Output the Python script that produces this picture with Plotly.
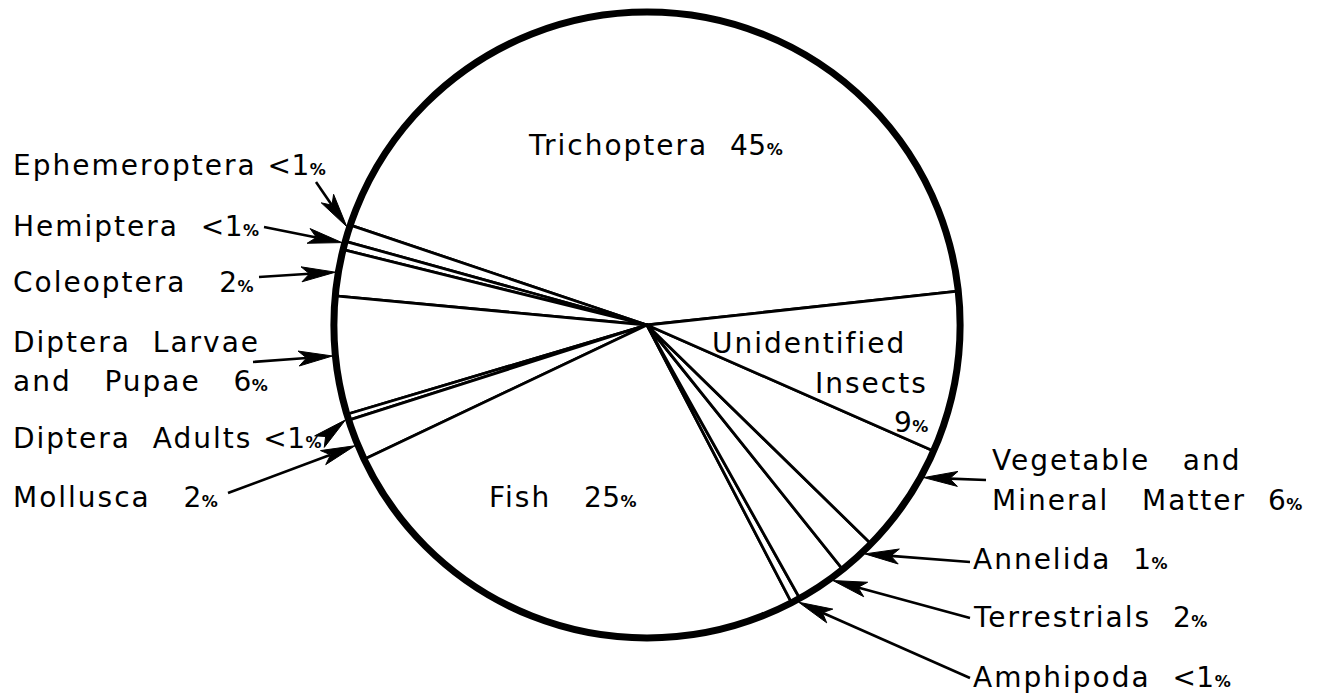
import math
import plotly.graph_objects as go

# ---------------- data ----------------
categories = ["Trichoptera", "Ephemeroptera", "Hemiptera", "Coleoptera",
              "Diptera Larvae and Pupae", "Diptera Adults", "Mollusca", "Fish",
              "Amphipoda", "Terrestrials", "Annelida",
              "Vegetable and Mineral Matter", "Unidentified Insects"]
# slice sizes (percent)
values = [43.1, 0.86, 0.44, 2.39, 6.08, 0.31, 2.14, 25.58,
          0.47, 2.64, 1.94, 5.72, 8.31]
# printed percentage labels
pct_labels = ["45", "<1", "<1", "2", "6", "<1", "2", "25",
              "<1", "2", "1", "6", "9"]

# ---------------- layout constants ----------------
OFF = 8                            # page body margin of the html page
FW, FH = 1319 - OFF, 695 - OFF     # figure size
CX, CY, R = 647, 325, 313          # pie centre / radius in page pixels
START = 6.2                        # first slice starts 6.2 deg above 3 o'clock (ccw)
FONT = "DejaVu Sans"
FS = 28
LS = "2px"

total = sum(values)
first_end = START + 360.0 * values[0] / total
rotation = 90.0 - first_end        # plotly: clockwise from 12 o'clock

# slice angle ranges (ccw from 3 o'clock)
bounds = []
acc = START
for v in values:
    a0 = acc
    acc += 360.0 * v / total
    bounds.append((a0, acc))

def pct(s):
    s = s.replace("<", "&lt;")
    return ('<span style="letter-spacing:0.5px">' + s +
            '<span style="font-size:16px"><b>%</b></span></span>')

def sp(n):
    return "&nbsp;" * n

# outside labels: (category index, lines [(text, x, y)], fraction along slice, tail px)
outside = [
    (1, [("Ephemeroptera" + sp(1) + pct(pct_labels[1]), 11, 165)], 0.15, (316, 182)),
    (2, [("Hemiptera" + sp(2) + pct(pct_labels[2]), 11, 226)], 0.25, (264, 227)),
    (3, [("Coleoptera" + sp(3) + pct(pct_labels[3]), 11, 282)], 0.5, (259, 277)),
    (4, [("Diptera" + sp(2) + "Larvae", 11, 342),
         ("and" + sp(3) + "Pupae" + sp(3) + pct(pct_labels[4]), 11, 381)], 0.5, (253, 362)),
    (5, [("Diptera" + sp(2) + "Adults" + sp(1) + pct(pct_labels[5]), 11, 438)], 0.8, (325, 437)),
    (6, [("Mollusca" + sp(3) + pct(pct_labels[6]), 11, 497)], 0.62, (228, 493)),
    (11, [("Vegetable" + sp(3) + "and", 990, 460),
          ("Mineral" + sp(3) + "Matter" + sp(2) + pct(pct_labels[11]), 990, 500)], 0.75, (986, 480)),
    (10, [("Annelida" + sp(2) + pct(pct_labels[10]), 971, 559)], 0.7, (970, 562)),
    (9, [("Terrestrials" + sp(2) + pct(pct_labels[9]), 971, 617)], 0.72, (970, 618)),
    (8, [("Amphipoda" + sp(2) + pct(pct_labels[8]), 971, 677)], 0.7, (970, 678)),
]
inside = [
    ("Trichoptera" + sp(2) + pct(pct_labels[0]), 526, 145),
    ("Unidentified", 710, 343),
    ("Insects", 813, 383),
    (pct(pct_labels[12]), 892, 422),
    ("Fish" + sp(3) + pct(pct_labels[7]), 487, 497),
]

fig = go.Figure()

dom_x = [(CX - R - OFF) / FW, (CX + R - OFF) / FW]
dom_y = [(FH - (CY + R - OFF)) / FH, (FH - (CY - R - OFF)) / FH]

# slices
fig.add_trace(go.Pie(
    values=values, labels=categories, sort=False, direction="counterclockwise",
    rotation=rotation, textinfo="none", hoverinfo="label+percent",
    marker=dict(colors=["white"] * len(values), line=dict(color="black", width=2.8)),
    domain=dict(x=dom_x, y=dom_y), showlegend=False))
# thick outer rim
fig.add_trace(go.Pie(
    values=[1], labels=["rim"], sort=False, textinfo="none", hoverinfo="skip",
    marker=dict(colors=["rgba(0,0,0,0)"], line=dict(color="black", width=7)),
    domain=dict(x=dom_x, y=dom_y), showlegend=False))

def label(text, x, y):
    return dict(text='<span style="letter-spacing:%s">%s</span>' % (LS, text),
                x=x, y=y, xref="x", yref="y",
                xanchor="left", yanchor="middle", showarrow=False,
                font=dict(family=FONT, size=FS, color="black"))

annotations = []
L_HEAD, W_HEAD, NOTCH = 34, 7.5, 8
for idx, lines, frac, (tx, ty) in outside:
    a0, a1 = bounds[idx]
    ang = math.radians(a0 + frac * (a1 - a0))
    px = CX + (R + 3) * math.cos(ang)
    py = CY - (R + 3) * math.sin(ang)
    dx, dy = px - tx, py - ty
    d = math.hypot(dx, dy)
    ux, uy = dx / d, dy / d
    nx, ny = -uy, ux
    bx, by = px - L_HEAD * ux, py - L_HEAD * uy
    mx, my = px - (L_HEAD - NOTCH) * ux, py - (L_HEAD - NOTCH) * uy
    fig.add_trace(go.Scatter(x=[tx, mx], y=[ty, my], mode="lines",
                             line=dict(color="black", width=2.6),
                             hoverinfo="skip", showlegend=False))
    fig.add_trace(go.Scatter(
        x=[px, bx + W_HEAD * nx, mx, bx - W_HEAD * nx, px],
        y=[py, by + W_HEAD * ny, my, by - W_HEAD * ny, py],
        mode="lines", fill="toself", fillcolor="black",
        line=dict(color="black", width=1), hoverinfo="skip", showlegend=False))
    for text, x, y in lines:
        annotations.append(label(text, x, y))
for text, x, y in inside:
    annotations.append(label(text, x, y))

fig.update_layout(
    width=FW, height=FH, margin=dict(l=0, r=0, t=0, b=0),
    paper_bgcolor="white", plot_bgcolor="white",
    xaxis=dict(range=[OFF, OFF + FW], visible=False, domain=[0, 1], fixedrange=True),
    yaxis=dict(range=[OFF + FH, OFF], visible=False, domain=[0, 1], fixedrange=True),
    annotations=annotations, showlegend=False)

fig.write_html("out.html")
